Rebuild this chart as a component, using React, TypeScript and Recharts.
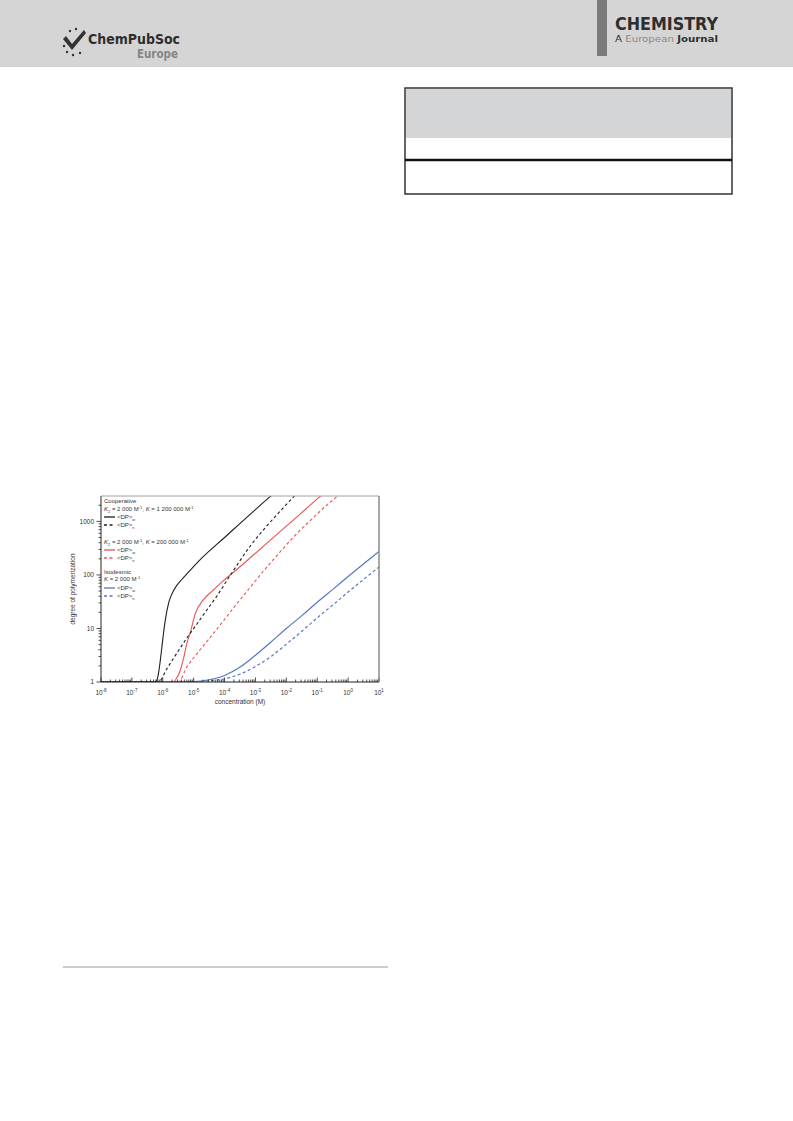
import React from 'react';
import { LineChart, Line, XAxis, YAxis } from 'recharts';

// tick values (log axes)
const xMajorTicks = [1e-8, 1e-7, 1e-6, 1e-5, 1e-4, 1e-3, 1e-2, 1e-1, 1, 10];
const xExponents = ['-8', '-7', '-6', '-5', '-4', '-3', '-2', '-1', '0', '1'];
const yMajorTicks = [1, 10, 100, 1000];
const yTickLabels = ['1', '10', '100', '1000'];
const minorSteps = [2, 3, 4, 5, 6, 7, 8, 9];

// cooperative, K2 = 2000, K = 1 200 000
const coopHighConcW = [1e-8, 5.0e-7, 6.3e-7, 7.2e-7, 8.3e-7, 1.02e-6, 1.2e-6, 1.55e-6, 1.9e-6, 2.8e-6, 4.2e-6, 7.8e-6, 1.66e-5, 1e-4, 1e-3, 3.0e-3, 4e-3];
const coopHighDPw = [1, 1, 1.05, 1.4, 2.5, 6.9, 14, 30, 42, 63, 83, 123, 195, 500, 1660, 2900, 3300];
const coopHighConcN = [1e-8, 7.2e-7, 1.38e-6, 2.9e-6, 6.0e-6, 1.26e-5, 2.5e-5, 5.6e-5, 1.26e-4, 2.5e-4, 6.8e-4, 2.3e-3, 6.3e-3, 1.8e-2, 2.5e-2];
const coopHighDPn = [1, 1, 1.8, 3.5, 6.6, 12, 21, 40, 83, 151, 347, 813, 1550, 2950, 3550];

// cooperative, K2 = 2000, K = 200 000
const coopLowConcW = [1e-8, 2.2e-6, 2.6e-6, 3.7e-6, 4.7e-6, 6.0e-6, 7.8e-6, 1.12e-5, 2.1e-5, 4.0e-5, 8.3e-5, 1.95e-4, 6.8e-4, 1e-2, 0.11, 0.16];
const coopLowDPw = [1, 1, 1.1, 1.66, 2.75, 5.2, 8.5, 18.6, 35, 50, 74, 112, 209, 813, 2750, 3300];
const coopLowConcN = [1e-8, 3.2e-6, 6.0e-6, 1.29e-5, 3.5e-5, 9.3e-5, 2.5e-4, 6.8e-4, 2.0e-3, 6.3e-3, 2.0e-2, 6.3e-2, 0.2, 0.5, 0.7];
const coopLowDPn = [1, 1, 1.9, 3.4, 6.9, 14, 29, 59, 126, 269, 562, 1070, 2000, 3160, 3900];

// isodesmic, K = 2000
const isoConc = [1e-8, 1e-5, 3.2e-5, 1e-4, 3.2e-4, 1e-3, 3.2e-3, 1e-2, 3.2e-2, 0.1, 0.32, 1, 3.2, 10];
const isoDPw = [1, 1.02, 1.1, 1.32, 1.9, 3.16, 5.6, 10, 17.4, 30.9, 53.7, 93.3, 162, 275];
const isoDPn = [1, 1.0, 1.05, 1.15, 1.41, 1.95, 3.0, 5.1, 8.9, 15.8, 27.5, 47.9, 83, 141];

const zip = (c: number[], v: number[]) => c.map((x, i) => ({ c: x, dp: v[i] }));

const xTicks = [
  ...xMajorTicks,
  ...xMajorTicks.slice(0, -1).flatMap((d) => minorSteps.map((m) => m * d)),
];
const yTicks = [
  ...yMajorTicks,
  ...yMajorTicks.flatMap((d) => minorSteps.map((m) => m * d)).filter((v) => v < 2980),
];

const BLACK = '#1e1e1e';
const RED = '#f05252';
const BLUE = '#5479c0';
const FONT = '"Liberation Sans", Arial, sans-serif';
const COND = '"DejaVu Sans Condensed", sans-serif';

const majorIndex = (list: number[], v: number) =>
  list.findIndex((t) => Math.abs(Math.log10(t) - Math.log10(v)) < 1e-6);

const XTick = (props: any) => {
  const { x, y, payload } = props;
  const i = majorIndex(xMajorTicks, payload.value);
  if (i < 0) return <line x1={x} x2={x} y1={y} y2={y - 2.5} stroke="#222" strokeWidth={0.8} />;
  return (
    <g>
      <line x1={x} x2={x} y1={y} y2={y - 4.5} stroke="#222" strokeWidth={0.8} />
      <text x={x} y={y + 13} textAnchor="middle" fontSize={6.5} fill="#333" fontFamily={FONT}>
        10<tspan dy={-3} fontSize={4.5}>{xExponents[i]}</tspan>
      </text>
    </g>
  );
};

const YTick = (props: any) => {
  const { x, y, payload } = props;
  const i = majorIndex(yMajorTicks, payload.value);
  if (i < 0) return <line x1={x} x2={x - 2.5} y1={y} y2={y} stroke="#222" strokeWidth={0.8} />;
  return (
    <g>
      <line x1={x} x2={x - 4.5} y1={y} y2={y} stroke="#222" strokeWidth={0.8} />
      <text x={x - 7} y={y + 2.2} textAnchor="end" fontSize={6.5} fill="#333" fontFamily={FONT}>
        {yTickLabels[i]}
      </text>
    </g>
  );
};

const Kline = ({ y, k }: { y: number; k: string }) => (
  <text x={104} y={y + 2} fontSize={6} fill="#333" fontFamily={FONT}>
    <tspan fontStyle="italic">K</tspan>
    <tspan dy={1.5} fontSize={4}>2</tspan>
    <tspan dy={-1.5}> = 2 000 M</tspan>
    <tspan dy={-2.5} fontSize={4}>-1</tspan>
    <tspan dy={2.5}>, </tspan>
    <tspan fontStyle="italic">K</tspan>
    <tspan> = {k} M</tspan>
    <tspan dy={-2.5} fontSize={4}>-1</tspan>
  </text>
);

const LegendItem = ({ y, color, dash, sub }: { y: number; color: string; dash?: string; sub: string }) => (
  <g>
    <line x1={104} x2={115} y1={y} y2={y} stroke={color} strokeWidth={1.3} strokeDasharray={dash} />
    <text x={117} y={y + 2} fontSize={6} fill="#333" fontFamily={FONT}>
      {'<DP>'}
      <tspan dy={1.5} fontSize={4}>{sub}</tspan>
    </text>
  </g>
);

const DASH = '3 2.5';

export default function App() {
  return (
    <div style={{ position: 'absolute', left: 0, top: 0, width: 793, height: 1121, background: '#fff' }}>
      <svg width={793} height={1121} style={{ position: 'absolute', left: 0, top: 0 }}>
        {/* journal header */}
        <rect x={0} y={0} width={793} height={67} fill="#d5d5d5" />
        <g fill="#333">
          <path d="M66 36 L72 44 L84 30 L86 33 L72 50 L63 39 Z" />
          <circle cx={70} cy={31} r={1.2} />
          <circle cx={76} cy={29} r={1.2} />
          <circle cx={64} cy={46} r={1.2} />
          <circle cx={67} cy={52} r={1.2} />
          <circle cx={73} cy={55} r={1.2} />
          <circle cx={80} cy={53} r={1.2} />
        </g>
        <text x={88} y={44} fontSize={14} fontWeight="bold" fill="#2e2e2e" fontFamily={COND} textLength={92} lengthAdjust="spacingAndGlyphs">
          ChemPubSoc
        </text>
        <text x={178} y={58} fontSize={11.5} fontWeight="bold" fill="#858585" textAnchor="end" fontFamily={COND}>
          Europe
        </text>
        <rect x={597} y={0} width={10} height={56} fill="#7b7b7b" />
        <text x={615} y={30} fontSize={18} fontWeight="bold" fill="#2e2e2e" fontFamily={COND} textLength={103} lengthAdjust="spacingAndGlyphs">
          CHEMISTRY
        </text>
        <text x={615} y={42} fontSize={9.5} fill="#2e2e2e" fontFamily={COND} textLength={103} lengthAdjust="spacingAndGlyphs">
          A <tspan fill="#8a8a8a">European</tspan> <tspan fontWeight="bold">Journal</tspan>
        </text>

        {/* table frame */}
        <rect x={405} y={88} width={327} height={106} fill="#fff" stroke="#333" strokeWidth={1.5} />
        <rect x={406} y={89} width={325} height={49} fill="#d4d5d7" />
        <line x1={405} x2={732} y1={160} y2={160} stroke="#111" strokeWidth={2.5} />

        {/* footnote rule */}
        <line x1={63} x2={388} y1={967} y2={967} stroke="#999" strokeWidth={1} />
      </svg>

      <div style={{ position: 'absolute', left: 60, top: 488 }}>
        <LineChart width={340} height={225} margin={{ top: 8, right: 21, bottom: 3, left: 11 }}>
          <XAxis
            dataKey="c"
            type="number"
            scale="log"
            domain={[1e-8, 10]}
            ticks={xTicks}
            interval={0}
            tick={(p: any) => <XTick {...p} />}
            tickLine={false}
            tickSize={0}
            tickMargin={0}
            axisLine={{ stroke: '#222', strokeWidth: 1 }}
            allowDataOverflow
            height={28}
          />
          <YAxis
            type="number"
            scale="log"
            domain={[1, 2980]}
            ticks={yTicks}
            interval={0}
            tick={(p: any) => <YTick {...p} />}
            tickLine={false}
            tickSize={0}
            tickMargin={0}
            axisLine={{ stroke: '#222', strokeWidth: 1 }}
            allowDataOverflow
            width={30}
          />
          <Line data={zip(isoConc, isoDPn)} dataKey="dp" type="monotone" stroke={BLUE} strokeWidth={1.2} strokeDasharray={DASH} dot={false} isAnimationActive={false} />
          <Line data={zip(isoConc, isoDPw)} dataKey="dp" type="monotone" stroke={BLUE} strokeWidth={1.2} dot={false} isAnimationActive={false} />
          <Line data={zip(coopLowConcN, coopLowDPn)} dataKey="dp" type="monotone" stroke={RED} strokeWidth={1.1} strokeDasharray={DASH} dot={false} isAnimationActive={false} />
          <Line data={zip(coopLowConcW, coopLowDPw)} dataKey="dp" type="monotone" stroke={RED} strokeWidth={1.1} dot={false} isAnimationActive={false} />
          <Line data={zip(coopHighConcN, coopHighDPn)} dataKey="dp" type="monotone" stroke={BLACK} strokeWidth={1.1} strokeDasharray={DASH} dot={false} isAnimationActive={false} />
          <Line data={zip(coopHighConcW, coopHighDPw)} dataKey="dp" type="monotone" stroke={BLACK} strokeWidth={1.1} dot={false} isAnimationActive={false} />
        </LineChart>
      </div>

      <svg width={793} height={1121} style={{ position: 'absolute', left: 0, top: 0, pointerEvents: 'none' }}>
        {/* plot frame, top and right */}
        <line x1={101} x2={379} y1={496} y2={496} stroke="#a0a0a0" strokeWidth={1} />
        <line x1={379} x2={379} y1={496} y2={682} stroke="#8a8a8a" strokeWidth={1.5} />

        {/* axis titles */}
        <text x={240} y={704} textAnchor="middle" fontSize={6.5} fill="#333" fontFamily={FONT}>
          concentration (M)
        </text>
        <text transform="translate(75,589) rotate(-90)" textAnchor="middle" fontSize={6.5} fill="#333" fontFamily={FONT}>
          degree of polymerization
        </text>

        {/* legend */}
        <text x={104} y={503} fontSize={6} fill="#333" fontFamily={FONT}>Cooperative</text>
        <Kline y={509} k="1 200 000" />
        <LegendItem y={517} color={BLACK} sub="w" />
        <LegendItem y={525} color={BLACK} dash={DASH} sub="n" />
        <Kline y={542} k="200 000" />
        <LegendItem y={550} color={RED} sub="w" />
        <LegendItem y={558} color={RED} dash={DASH} sub="n" />
        <text x={104} y={574} fontSize={6} fill="#333" fontFamily={FONT}>Isodesmic</text>
        <text x={104} y={581} fontSize={6} fill="#333" fontFamily={FONT}>
          <tspan fontStyle="italic">K</tspan> = 2 000 M<tspan dy={-2.5} fontSize={4}>-1</tspan>
        </text>
        <LegendItem y={588} color={BLUE} sub="w" />
        <LegendItem y={596} color={BLUE} dash={DASH} sub="n" />
      </svg>
    </div>
  );
}
